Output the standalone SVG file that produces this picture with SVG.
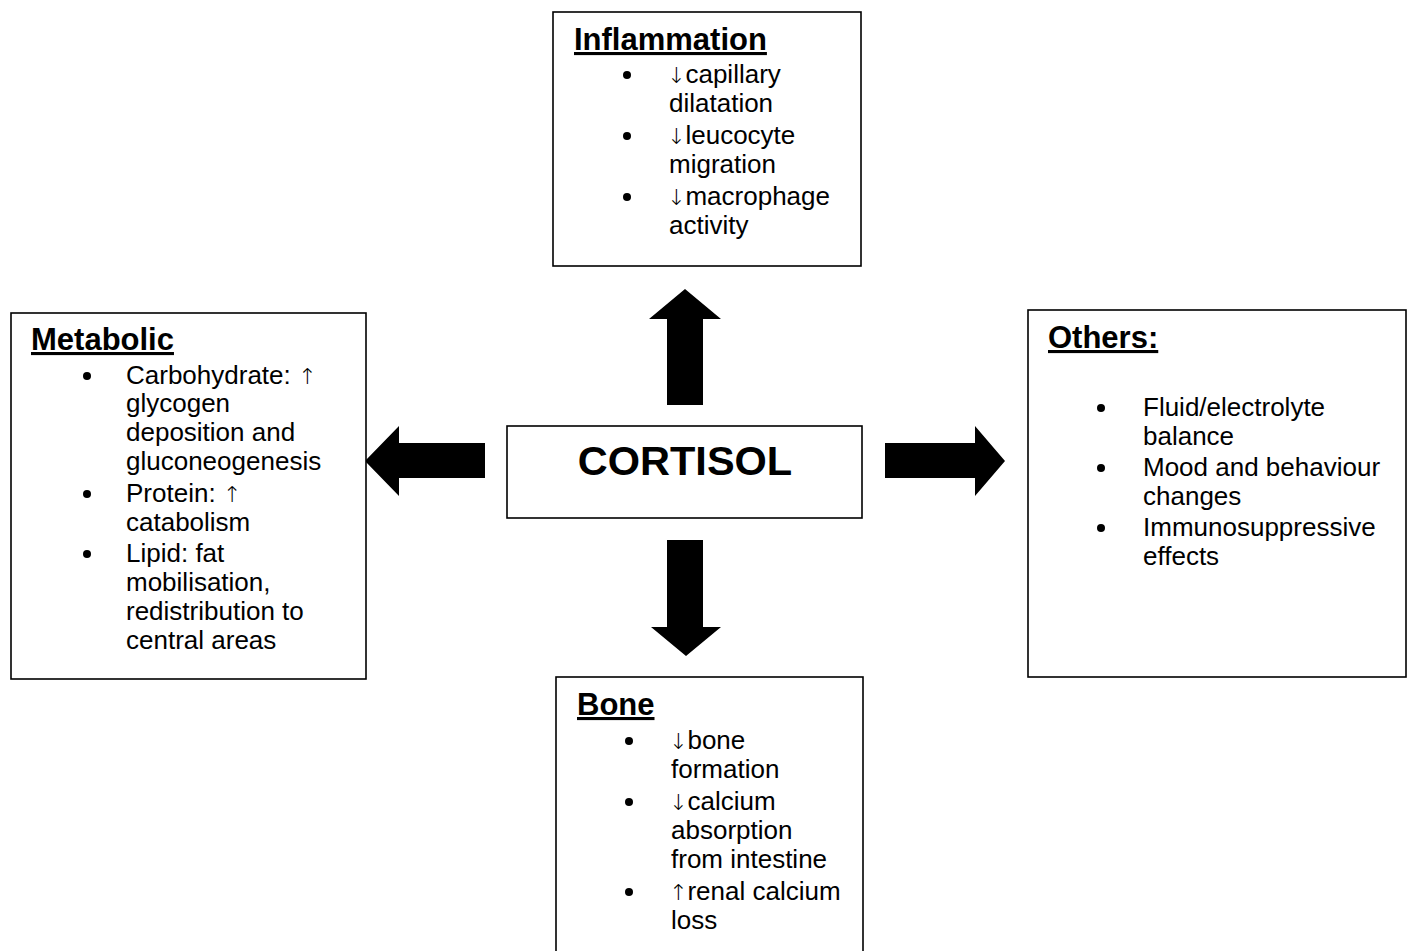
<svg xmlns="http://www.w3.org/2000/svg" width="1411" height="951" viewBox="0 0 1411 951">
  <style>
    .box { fill: #fff; stroke: #000; stroke-width: 1.6; }
    .title { font-family: "Liberation Sans", Arial, sans-serif; font-weight: bold; font-size: 31px; text-decoration: underline; fill: #000; }
    .item { font-family: "Liberation Sans", "DejaVu Sans", Arial, sans-serif; font-size: 26px; fill: #000; }
    .ar { font-family: "DejaVu Sans", sans-serif; font-size: 22px; font-weight: 200; }
    .center { font-family: "Liberation Sans", Arial, sans-serif; font-weight: bold; font-size: 41.5px; fill: #000; }
    .dot { fill: #000; }
    .arrow { fill: #000; }
  </style>
  <rect width="1411" height="951" fill="#fff"/>

  <!-- Block arrows radiating from the central box -->
  <g id="connectors">
    <polygon class="arrow" points="667,405 667,319 649,319 685,289 721,319 703,319 703,405"/>
    <polygon class="arrow" points="667,540 703,540 703,627 721,627 686,656 651,627 667,627"/>
    <polygon class="arrow" points="485,443 399,443 399,426 365,461 399,496 399,478 485,478"/>
    <polygon class="arrow" points="885,443 975,443 975,426 1005,461 975,496 975,478 885,478"/>
  </g>

  <g id="cortisol">
    <rect class="box" x="507" y="426" width="355" height="92"/>
    <text class="center" x="685" y="475" text-anchor="middle">CORTISOL</text>
  </g>

  <g id="inflammation">
    <rect class="box" x="553" y="12" width="308" height="254"/>
    <text class="title" x="574" y="50">Inflammation</text>
    <circle class="dot" cx="627" cy="75" r="4"/>
    <circle class="dot" cx="627" cy="136" r="4"/>
    <circle class="dot" cx="627" cy="197" r="4"/>
    <text class="item" x="667" y="83"><tspan class="ar">↓</tspan>capillary</text>
    <text class="item" x="669" y="112">dilatation</text>
    <text class="item" x="667" y="144"><tspan class="ar">↓</tspan>leucocyte</text>
    <text class="item" x="669" y="173">migration</text>
    <text class="item" x="667" y="205"><tspan class="ar">↓</tspan>macrophage</text>
    <text class="item" x="669" y="234">activity</text>
  </g>

  <g id="metabolic">
    <rect class="box" x="11" y="313" width="355" height="366"/>
    <text class="title" x="31" y="350">Metabolic</text>
    <circle class="dot" cx="87" cy="376" r="4"/>
    <circle class="dot" cx="87" cy="494" r="4"/>
    <circle class="dot" cx="87" cy="554" r="4"/>
    <text class="item" x="126" y="384">Carbohydrate: <tspan class="ar">↑</tspan></text>
    <text class="item" x="126" y="412">glycogen</text>
    <text class="item" x="126" y="441">deposition and</text>
    <text class="item" x="126" y="470">gluconeogenesis</text>
    <text class="item" x="126" y="502">Protein: <tspan class="ar">↑</tspan></text>
    <text class="item" x="126" y="531">catabolism</text>
    <text class="item" x="126" y="562">Lipid: fat</text>
    <text class="item" x="126" y="591">mobilisation,</text>
    <text class="item" x="126" y="620">redistribution to</text>
    <text class="item" x="126" y="649">central areas</text>
  </g>

  <g id="others">
    <rect class="box" x="1028" y="310" width="378" height="367"/>
    <text class="title" x="1048" y="348">Others:</text>
    <circle class="dot" cx="1101" cy="408" r="4"/>
    <circle class="dot" cx="1101" cy="468" r="4"/>
    <circle class="dot" cx="1101" cy="528" r="4"/>
    <text class="item" x="1143" y="416">Fluid/electrolyte</text>
    <text class="item" x="1143" y="445">balance</text>
    <text class="item" x="1143" y="476">Mood and behaviour</text>
    <text class="item" x="1143" y="505">changes</text>
    <text class="item" x="1143" y="536">Immunosuppressive</text>
    <text class="item" x="1143" y="565">effects</text>
  </g>

  <g id="bone">
    <rect class="box" x="556" y="677" width="307" height="290"/>
    <text class="title" x="577" y="715">Bone</text>
    <circle class="dot" cx="629" cy="741" r="4"/>
    <circle class="dot" cx="629" cy="802" r="4"/>
    <circle class="dot" cx="629" cy="892" r="4"/>
    <text class="item" x="669" y="749"><tspan class="ar">↓</tspan>bone</text>
    <text class="item" x="671" y="778">formation</text>
    <text class="item" x="669" y="810"><tspan class="ar">↓</tspan>calcium</text>
    <text class="item" x="671" y="839">absorption</text>
    <text class="item" x="671" y="868">from intestine</text>
    <text class="item" x="669" y="900"><tspan class="ar">↑</tspan>renal calcium</text>
    <text class="item" x="671" y="929">loss</text>
  </g>
</svg>
